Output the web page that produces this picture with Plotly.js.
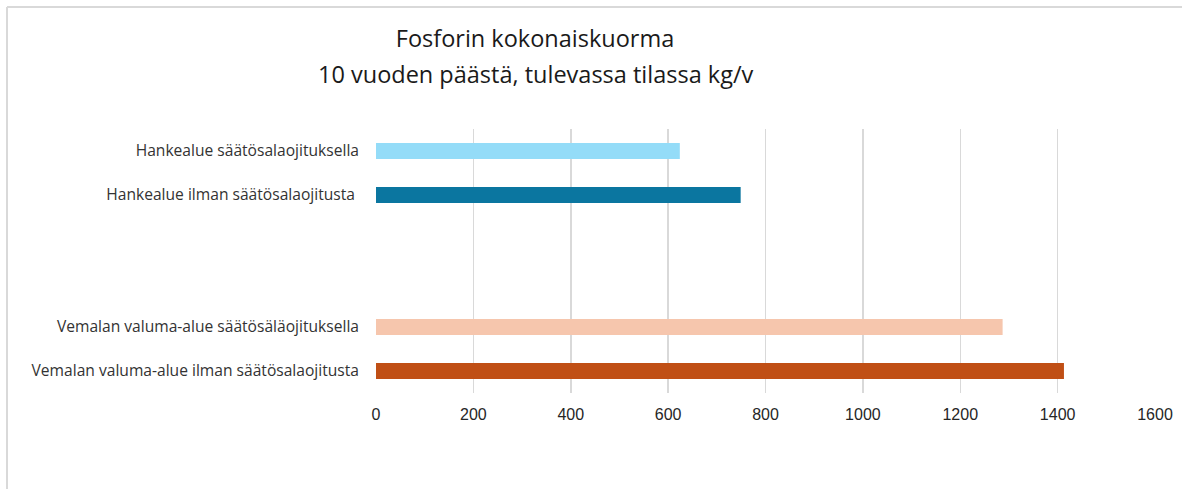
<!DOCTYPE html>
<html>
<head>
<meta charset="utf-8">
<script src="https://cdn.plot.ly/plotly-3.0.1.min.js"></script>
<style>
  html, body { margin: 0; padding: 0; background: #ffffff; }
  #chart { width: 1182px; height: 489px; }
</style>
</head>
<body>
<div id="chart"></div>
<script>
// Categories from bottom to top (two blank slots separate the groups)
var categories = [
  'Vemalan valuma-alue ilman säätösalaojitusta',
  'Vemalan valuma-alue säätösäläojituksella',
  ' ',
  '  ',
  'Hankealue ilman säätösalaojitusta ',
  'Hankealue säätösalaojituksella'
];
var values = [1413, 1287, null, null, 749, 624];
var barColors = ['#C04F15', '#F6C6AD', '#FFFFFF', '#FFFFFF', '#0B76A0', '#94DCF8'];
var xTickValues = [0, 200, 400, 600, 800, 1000, 1200, 1400, 1600];
var titleLine1 = 'Fosforin kokonaiskuorma';
var titleLine2 = '10 vuoden päästä, tulevassa tilassa kg/v';

var titleFont = { family: '"Open Sans", Lato, sans-serif', size: 23.5, color: '#1a1a1a' };

var trace = {
  type: 'bar',
  orientation: 'h',
  x: values,
  y: categories,
  width: 0.36,
  marker: { color: barColors, line: { width: 0 } },
  hoverinfo: 'x+y',
  showlegend: false
};

var layout = {
  width: 1182,
  height: 489,
  paper_bgcolor: '#ffffff',
  plot_bgcolor: '#ffffff',
  margin: { l: 376, r: 27, t: 129, b: 96, pad: 0 },
  title: {
    text: titleLine1,
    font: titleFont,
    x: 535 / 1182,
    xanchor: 'center',
    xref: 'container',
    y: 1 - 30.5 / 489,
    yanchor: 'top',
    yref: 'container'
  },
  annotations: [
    { text: titleLine2, font: titleFont, showarrow: false,
      xref: 'paper', yref: 'paper',
      x: (536 - 376) / 779, xanchor: 'center',
      y: 1 + (129 - 74) / 264, yanchor: 'middle' }
  ],
  xaxis: {
    range: [0, 1600],
    tickvals: xTickValues,
    ticktext: xTickValues.map(String),
    showgrid: true,
    gridcolor: '#D9D9D9',
    gridwidth: 1.5,
    zeroline: false,
    showline: false,
    ticks: '',
    ticklabelstandoff: 10,
    tickfont: { family: '"Liberation Sans", Arial, sans-serif', size: 16, color: '#262626' },
    fixedrange: true
  },
  yaxis: {
    type: 'category',
    categoryorder: 'array',
    categoryarray: categories,
    showgrid: false,
    zeroline: false,
    showline: false,
    ticks: '',
    ticklabelstandoff: 16,
    tickfont: { family: '"Open Sans", Lato, sans-serif', size: 15.6, color: '#333333' },
    fixedrange: true
  },
  shapes: [
    { type: 'line', xref: 'paper', yref: 'paper',
      x0: -369 / 779, x1: 1 + 27 / 779, y0: 1 + 122 / 264, y1: 1 + 122 / 264,
      line: { color: '#D9D9D9', width: 2 } },
    { type: 'line', xref: 'paper', yref: 'paper',
      x0: -369 / 779, x1: -369 / 779, y0: 1 + 122 / 264, y1: -96 / 264,
      line: { color: '#D9D9D9', width: 2 } }
  ]
};

Plotly.newPlot('chart', [trace], layout, { displayModeBar: false, staticPlot: true });
</script>
</body>
</html>
